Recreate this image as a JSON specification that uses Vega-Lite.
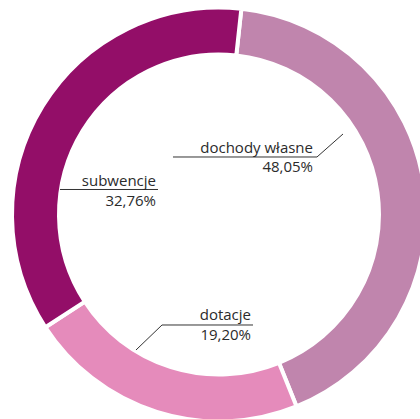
{
  "$schema": "https://vega.github.io/schema/vega-lite/v6.json",
  "autosize": {"type": "none"},
  "padding": 0,
  "width": 438,
  "height": 429,
  "background": "white",
  "config": {"view": {"stroke": null}},
  "datasets": {
    "budzet": [
      {"nr": 1, "zrodlo": "dochody własne", "udzial": 48.05, "kat": 151.8},
      {"nr": 2, "zrodlo": "dotacje", "udzial": 19.20, "kat": 79.0},
      {"nr": 3, "zrodlo": "subwencje", "udzial": 32.76, "kat": 129.2}
    ],
    "linie": [
      {"zrodlo": "dochody własne", "p": 1, "ux": -0.2244, "uy": 0.2805},
      {"zrodlo": "dochody własne", "p": 2, "ux": 0.4780, "uy": 0.2805},
      {"zrodlo": "dochody własne", "p": 3, "ux": 0.6049, "uy": 0.3927},
      {"zrodlo": "subwencje", "p": 1, "ux": -0.7756, "uy": 0.1220},
      {"zrodlo": "subwencje", "p": 2, "ux": -0.2976, "uy": 0.1220},
      {"zrodlo": "dotacje", "p": 1, "ux": 0.1659, "uy": -0.5390},
      {"zrodlo": "dotacje", "p": 2, "ux": -0.2780, "uy": -0.5390},
      {"zrodlo": "dotacje", "p": 3, "ux": -0.4049, "uy": -0.6610}
    ],
    "etykiety": [
      {"tekst": "dochody własne", "ux": 0.4585, "uy": 0.3000},
      {"tekst": "48,05%", "ux": 0.4585, "uy": 0.2049},
      {"tekst": "subwencje", "ux": -0.3073, "uy": 0.1366},
      {"tekst": "32,76%", "ux": -0.3073, "uy": 0.0415},
      {"tekst": "dotacje", "ux": 0.1561, "uy": -0.5146},
      {"tekst": "19,20%", "ux": 0.1561, "uy": -0.6146}
    ]
  },
  "layer": [
    {
      "data": {"name": "budzet"},
      "mark": {"type": "arc", "outerRadius": 207, "innerRadius": 160, "stroke": "white", "strokeWidth": 4},
      "encoding": {
        "theta": {"field": "kat", "type": "quantitative", "stack": true, "scale": {"range": [0.1082, 6.3914]}},
        "order": {"field": "nr", "type": "quantitative"},
        "color": {
          "field": "zrodlo", "type": "nominal", "legend": null,
          "scale": {"domain": ["dochody własne", "dotacje", "subwencje"], "range": ["#c085ad", "#e58bbb", "#930e68"]}
        }
      }
    },
    {
      "data": {"name": "linie"},
      "mark": {"type": "line", "color": "#333333", "strokeWidth": 1},
      "encoding": {
        "x": {"field": "ux", "type": "quantitative", "axis": null, "scale": {"domain": [-1.0683, 1.0683], "nice": false, "zero": false}},
        "y": {"field": "uy", "type": "quantitative", "axis": null, "scale": {"domain": [-1.0463, 1.0463], "nice": false, "zero": false}},
        "detail": {"field": "zrodlo", "type": "nominal"},
        "order": {"field": "p", "type": "quantitative"}
      }
    },
    {
      "data": {"name": "etykiety"},
      "mark": {"type": "text", "align": "right", "baseline": "alphabetic", "font": "Open Sans", "fontSize": 15, "color": "#2b2b2b"},
      "encoding": {
        "x": {"field": "ux", "type": "quantitative"},
        "y": {"field": "uy", "type": "quantitative"},
        "text": {"field": "tekst", "type": "nominal"}
      }
    }
  ]
}
